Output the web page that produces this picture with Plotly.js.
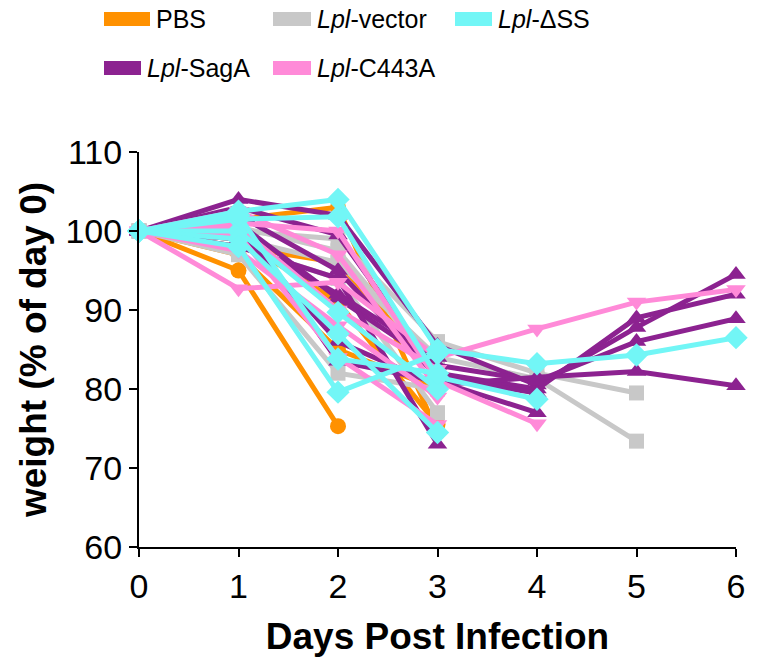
<!DOCTYPE html>
<html>
<head>
<meta charset="utf-8">
<script src="https://cdn.plot.ly/plotly-3.0.1.min.js"></script>
<style>html,body{margin:0;padding:0;background:#fff;}#chart{width:766px;height:669px;}</style>
</head>
<body>
<div id="chart"></div>
<script>
// Days post infection
const days = [0, 1, 2, 3, 4, 5, 6];
const yTicks = [60, 70, 80, 90, 100, 110];

// Individual mice, weight (% of day 0)
const pbsMice = [
  [100, 95.0, 75.3],
  [100, 101.5, 103.0, 74.5],
  [100, 98.0, 96.0, 82.0],
  [100, 97.0, 85.0, 80.0],
  [100, 99.0, 91.0, 75.5]
];
const vectorMice = [
  [100, 100.0, 99.0, 86.0, 82.0, 79.5],
  [100, 99.0, 96.0, 84.0, 81.3, 73.4],
  [100, 98.0, 94.0, 77.0],
  [100, 97.0, 82.0, 80.0],
  [100, 100.5, 97.5, 82.5]
];
const sagaMice = [
  [100, 104.0, 102.0, 85.5, 80.5, 87.8, 94.5],
  [100, 103.0, 99.5, 82.0, 80.0, 89.0, 92.0],
  [100, 101.0, 91.5, 83.0, 81.0, 86.0, 88.9],
  [100, 100.0, 86.0, 80.5, 81.5, 82.2, 80.4],
  [100, 98.0, 94.0, 73.0],
  [100, 101.5, 83.5, 81.0, 77.0],
  [100, 99.0, 92.0, 84.0],
  [100, 102.0, 95.0, 81.5, 79.5]
];
const c443aMice = [
  [100, 92.7, 93.5, 84.0, 87.6, 91.0, 92.6],
  [100, 101.0, 100.0, 81.0, 75.6],
  [100, 102.5, 97.0, 80.0],
  [100, 99.5, 84.0, 75.5],
  [100, 100.5, 90.0, 82.5],
  [100, 97.5, 88.0, 79.0]
];
const dssMice = [
  [100, 102.5, 104.0, 85.0, 83.2, 84.3, 86.5],
  [100, 101.5, 101.8, 81.5, 78.7],
  [100, 100.0, 89.7, 80.0],
  [100, 99.0, 87.0, 74.5],
  [100, 102.0, 83.8, 82.0],
  [100, 98.0, 79.6, 84.5]
];

const groupNames = ['PBS', '<i>Lpl</i>-vector', '<i>Lpl</i>-ΔSS', '<i>Lpl</i>-SagA', '<i>Lpl</i>-C443A'];
const groupColors = ['#FF9100', '#C8C8C8', '#72F6F6', '#8C2290', '#FF8AD8'];

const groups = [
  {mice: pbsMice, color: groupColors[0], symbol: 'circle', size: 16},
  {mice: vectorMice, color: groupColors[1], symbol: 'square', size: 15},
  {mice: sagaMice, color: groupColors[3], symbol: 'triangle-up', size: 17},
  {mice: c443aMice, color: groupColors[4], symbol: 'triangle-down', size: 17},
  {mice: dssMice, color: groupColors[2], symbol: 'diamond', size: 18}
];

const traces = [];
groups.forEach(g => {
  g.mice.forEach(vals => {
    traces.push({
      type: 'scatter', mode: 'lines+markers',
      x: days.slice(0, vals.length), y: vals,
      line: {color: g.color, width: 5},
      marker: {color: g.color, symbol: g.symbol, size: g.size},
      cliponaxis: false, showlegend: false, hoverinfo: 'skip'
    });
  });
});

// Legend drawn manually (paper coordinates relative to plot area)
const L = 139, R = 736, T = 152, B = 547;
const W = R - L, H = B - T;
const px = v => (v - L) / W;
const py = v => (B - v) / H;
const legendItems = [
  {name: groupNames[0], color: groupColors[0], x0: 104, x1: 150, y: 19},
  {name: groupNames[1], color: groupColors[1], x0: 273, x1: 311, y: 19},
  {name: groupNames[2], color: groupColors[2], x0: 455, x1: 492, y: 19},
  {name: groupNames[3], color: groupColors[3], x0: 104, x1: 141, y: 68},
  {name: groupNames[4], color: groupColors[4], x0: 273, x1: 311, y: 68}
];
const shapes = [], annotations = [];
legendItems.forEach(it => {
  shapes.push({type: 'rect', xref: 'paper', yref: 'paper',
    x0: px(it.x0), x1: px(it.x1), y0: py(it.y - 7), y1: py(it.y + 7),
    fillcolor: it.color, line: {width: 0}});
  annotations.push({xref: 'paper', yref: 'paper', x: px(it.x1 + 4), y: py(it.y),
    xanchor: 'left', yanchor: 'middle', text: it.name, showarrow: false,
    font: {family: 'Liberation Sans, Arial, sans-serif', size: 25, color: '#000'}});
});

const layout = {
  width: 766, height: 669,
  margin: {l: L, r: 766 - R, t: T, b: 669 - B, pad: 0},
  paper_bgcolor: '#fff', plot_bgcolor: '#fff',
  showlegend: false,
  font: {family: 'Liberation Sans, Arial, sans-serif', color: '#000'},
  xaxis: {
    range: [0, 6], tickvals: days, ticktext: days.map(String),
    showgrid: false, zeroline: false, showline: true, linecolor: '#000', linewidth: 2,
    ticks: 'outside', ticklen: 8, tickwidth: 2, tickcolor: '#000',
    tickfont: {size: 34},
    title: {text: '<b>Days Post Infection</b>', font: {size: 37}, standoff: 19}
  },
  yaxis: {
    range: [60, 110], tickvals: yTicks,
    showgrid: false, zeroline: false, showline: true, linecolor: '#000', linewidth: 2,
    ticks: 'outside', ticklen: 8, tickwidth: 2, tickcolor: '#000',
    tickfont: {size: 34},
    title: {text: '<b>weight (% of day 0)</b>', font: {size: 37}, standoff: 8}
  },
  shapes: shapes,
  annotations: annotations
};

Plotly.newPlot('chart', traces, layout, {displayModeBar: false, staticPlot: true});
</script>
</body>
</html>
